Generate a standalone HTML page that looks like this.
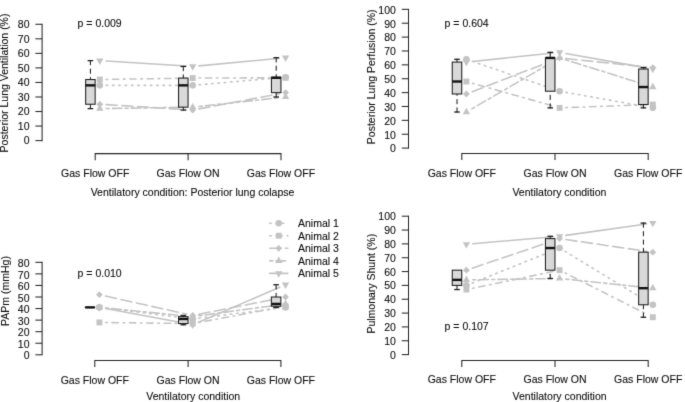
<!DOCTYPE html>
<html><head><meta charset="utf-8"><style>
html,body{margin:0;padding:0;background:#fff;}
svg{display:block;filter:grayscale(1);}
text{font-family:"Liberation Sans",sans-serif;font-size:10.5px;fill:#0d0d0d;stroke:#0d0d0d;stroke-width:0.1px;}
</style></head><body>
<svg width="685" height="402" viewBox="0 0 685 402">
<defs><filter id="bl" x="0" y="0" width="685" height="402" filterUnits="userSpaceOnUse" color-interpolation-filters="sRGB"><feConvolveMatrix order="3" kernelMatrix="0.01134 0.08382 0.01134 0.08382 0.61935 0.08382 0.01134 0.08382 0.01134" edgeMode="duplicate"/></filter></defs>
<g filter="url(#bl)">
<rect width="685" height="402" fill="#fff"/>
<line x1="42.10" y1="140.60" x2="42.10" y2="24.28" stroke="#262626" stroke-width="1.05" stroke-linecap="square"/>
<line x1="35.40" y1="140.60" x2="42.10" y2="140.60" stroke="#262626" stroke-width="1.05" stroke-linecap="butt"/>
<text x="29.50" y="144.45" text-anchor="end">0</text>
<line x1="35.40" y1="126.06" x2="42.10" y2="126.06" stroke="#262626" stroke-width="1.05" stroke-linecap="butt"/>
<text x="29.50" y="129.91" text-anchor="end">10</text>
<line x1="35.40" y1="111.52" x2="42.10" y2="111.52" stroke="#262626" stroke-width="1.05" stroke-linecap="butt"/>
<text x="29.50" y="115.37" text-anchor="end">20</text>
<line x1="35.40" y1="96.98" x2="42.10" y2="96.98" stroke="#262626" stroke-width="1.05" stroke-linecap="butt"/>
<text x="29.50" y="100.83" text-anchor="end">30</text>
<line x1="35.40" y1="82.44" x2="42.10" y2="82.44" stroke="#262626" stroke-width="1.05" stroke-linecap="butt"/>
<text x="29.50" y="86.29" text-anchor="end">40</text>
<line x1="35.40" y1="67.90" x2="42.10" y2="67.90" stroke="#262626" stroke-width="1.05" stroke-linecap="butt"/>
<text x="29.50" y="71.75" text-anchor="end">50</text>
<line x1="35.40" y1="53.36" x2="42.10" y2="53.36" stroke="#262626" stroke-width="1.05" stroke-linecap="butt"/>
<text x="29.50" y="57.21" text-anchor="end">60</text>
<line x1="35.40" y1="38.82" x2="42.10" y2="38.82" stroke="#262626" stroke-width="1.05" stroke-linecap="butt"/>
<text x="29.50" y="42.67" text-anchor="end">70</text>
<line x1="35.40" y1="24.28" x2="42.10" y2="24.28" stroke="#262626" stroke-width="1.05" stroke-linecap="butt"/>
<text x="29.50" y="28.13" text-anchor="end">80</text>
<path d="M95.20 160.20V153.60H281.00V160.20M188.10 153.60V160.20" fill="none" stroke="#262626" stroke-width="1.05"/>
<text x="95.20" y="177.10" text-anchor="middle">Gas Flow OFF</text>
<text x="188.10" y="177.10" text-anchor="middle">Gas Flow ON</text>
<text x="281.00" y="177.10" text-anchor="middle">Gas Flow OFF</text>
<text x="192.50" y="196.00" text-anchor="middle">Ventilatory condition: Posterior lung colapse</text>
<text x="0" y="0" transform="translate(8.40,83.00) rotate(-90)" text-anchor="middle">Posterior Lung Ventilation (%)</text>
<text x="77.60" y="26.80" text-anchor="start">p = 0.009</text>
<line x1="106.10" y1="85.35" x2="186.40" y2="85.35" stroke="#c3c3c3" stroke-width="1.58" stroke-dasharray="1.58 4.74" stroke-linecap="round"/>
<line x1="198.98" y1="84.80" x2="279.32" y2="77.76" stroke="#c3c3c3" stroke-width="1.58" stroke-dasharray="1.58 4.74" stroke-linecap="round"/>
<line x1="106.10" y1="79.43" x2="186.40" y2="78.18" stroke="#c3c3c3" stroke-width="1.58" stroke-dasharray="1.58 4.74 6.32 4.74" stroke-linecap="round"/>
<line x1="199.00" y1="78.06" x2="279.30" y2="77.81" stroke="#c3c3c3" stroke-width="1.58" stroke-dasharray="1.58 4.74 6.32 4.74" stroke-linecap="round"/>
<line x1="106.09" y1="104.64" x2="186.41" y2="109.67" stroke="#c3c3c3" stroke-width="1.58" stroke-dasharray="11.06 4.74" stroke-linecap="round"/>
<line x1="198.89" y1="108.90" x2="279.41" y2="93.78" stroke="#c3c3c3" stroke-width="1.58" stroke-dasharray="11.06 4.74" stroke-linecap="round"/>
<line x1="106.10" y1="108.51" x2="186.40" y2="107.26" stroke="#c3c3c3" stroke-width="1.58" stroke-dasharray="3.16 3.16 9.48 3.16" stroke-linecap="round"/>
<line x1="198.96" y1="106.47" x2="279.34" y2="97.67" stroke="#c3c3c3" stroke-width="1.58" stroke-dasharray="3.16 3.16 9.48 3.16" stroke-linecap="round"/>
<line x1="106.09" y1="61.02" x2="186.41" y2="66.05" stroke="#c3c3c3" stroke-width="1.58" stroke-linecap="round"/>
<line x1="198.97" y1="65.86" x2="279.33" y2="58.31" stroke="#c3c3c3" stroke-width="1.58" stroke-linecap="round"/>
<circle cx="99.80" cy="85.35" r="3.30" fill="#c3c3c3"/>
<circle cx="192.70" cy="85.35" r="3.30" fill="#c3c3c3"/>
<circle cx="285.60" cy="77.21" r="3.30" fill="#c3c3c3"/>
<rect x="96.85" y="76.58" width="5.90" height="5.90" fill="#c3c3c3"/>
<rect x="189.75" y="75.13" width="5.90" height="5.90" fill="#c3c3c3"/>
<rect x="282.65" y="74.84" width="5.90" height="5.90" fill="#c3c3c3"/>
<path d="M99.80 100.85L103.20 104.25L99.80 107.65L96.40 104.25Z" fill="#c3c3c3"/>
<path d="M192.70 106.67L196.10 110.07L192.70 113.47L189.30 110.07Z" fill="#c3c3c3"/>
<path d="M285.60 89.22L289.00 92.62L285.60 96.02L282.20 92.62Z" fill="#c3c3c3"/>
<path d="M99.80 104.36L103.48 110.74L96.12 110.74Z" fill="#c3c3c3"/>
<path d="M192.70 102.91L196.38 109.28L189.02 109.28Z" fill="#c3c3c3"/>
<path d="M285.60 92.73L289.28 99.10L281.92 99.10Z" fill="#c3c3c3"/>
<path d="M99.80 64.88L103.48 58.50L96.12 58.50Z" fill="#c3c3c3"/>
<path d="M192.70 70.70L196.38 64.32L189.02 64.32Z" fill="#c3c3c3"/>
<path d="M285.60 61.97L289.28 55.60L281.92 55.60Z" fill="#c3c3c3"/>
<line x1="90.40" y1="60.63" x2="90.40" y2="79.53" stroke="#1e1e1e" stroke-width="1.05" stroke-dasharray="4.2 4.2" stroke-linecap="round"/>
<line x1="87.60" y1="60.63" x2="93.20" y2="60.63" stroke="#1e1e1e" stroke-width="1.3" stroke-linecap="butt"/>
<line x1="90.40" y1="108.61" x2="90.40" y2="104.25" stroke="#1e1e1e" stroke-width="1.05" stroke-dasharray="4.2 4.2" stroke-linecap="round"/>
<line x1="87.60" y1="108.61" x2="93.20" y2="108.61" stroke="#1e1e1e" stroke-width="1.3" stroke-linecap="butt"/>
<rect x="85.65" y="79.53" width="9.50" height="24.72" fill="#d9d9d9" stroke="#1e1e1e" stroke-width="1.05"/>
<line x1="85.65" y1="85.35" x2="95.15" y2="85.35" stroke="#111" stroke-width="2.4" stroke-linecap="butt"/>
<line x1="183.30" y1="66.45" x2="183.30" y2="78.08" stroke="#1e1e1e" stroke-width="1.05" stroke-dasharray="4.2 4.2" stroke-linecap="round"/>
<line x1="180.50" y1="66.45" x2="186.10" y2="66.45" stroke="#1e1e1e" stroke-width="1.3" stroke-linecap="butt"/>
<line x1="183.30" y1="110.07" x2="183.30" y2="107.16" stroke="#1e1e1e" stroke-width="1.05" stroke-dasharray="4.2 4.2" stroke-linecap="round"/>
<line x1="180.50" y1="110.07" x2="186.10" y2="110.07" stroke="#1e1e1e" stroke-width="1.3" stroke-linecap="butt"/>
<rect x="178.55" y="78.08" width="9.50" height="29.08" fill="#d9d9d9" stroke="#1e1e1e" stroke-width="1.05"/>
<line x1="178.55" y1="85.35" x2="188.05" y2="85.35" stroke="#111" stroke-width="2.4" stroke-linecap="butt"/>
<line x1="276.20" y1="57.72" x2="276.20" y2="77.21" stroke="#1e1e1e" stroke-width="1.05" stroke-dasharray="4.2 4.2" stroke-linecap="round"/>
<line x1="273.40" y1="57.72" x2="279.00" y2="57.72" stroke="#1e1e1e" stroke-width="1.3" stroke-linecap="butt"/>
<line x1="276.20" y1="96.98" x2="276.20" y2="92.62" stroke="#1e1e1e" stroke-width="1.05" stroke-dasharray="4.2 4.2" stroke-linecap="round"/>
<line x1="273.40" y1="96.98" x2="279.00" y2="96.98" stroke="#1e1e1e" stroke-width="1.3" stroke-linecap="butt"/>
<rect x="271.45" y="77.21" width="9.50" height="15.41" fill="#d9d9d9" stroke="#1e1e1e" stroke-width="1.05"/>
<line x1="271.45" y1="77.79" x2="280.95" y2="77.79" stroke="#111" stroke-width="2.4" stroke-linecap="butt"/>
<line x1="408.50" y1="148.10" x2="408.50" y2="9.35" stroke="#262626" stroke-width="1.05" stroke-linecap="square"/>
<line x1="401.80" y1="148.10" x2="408.50" y2="148.10" stroke="#262626" stroke-width="1.05" stroke-linecap="butt"/>
<text x="395.90" y="152.45" text-anchor="end">0</text>
<line x1="401.80" y1="134.22" x2="408.50" y2="134.22" stroke="#262626" stroke-width="1.05" stroke-linecap="butt"/>
<text x="395.90" y="138.57" text-anchor="end">10</text>
<line x1="401.80" y1="120.35" x2="408.50" y2="120.35" stroke="#262626" stroke-width="1.05" stroke-linecap="butt"/>
<text x="395.90" y="124.70" text-anchor="end">20</text>
<line x1="401.80" y1="106.47" x2="408.50" y2="106.47" stroke="#262626" stroke-width="1.05" stroke-linecap="butt"/>
<text x="395.90" y="110.82" text-anchor="end">30</text>
<line x1="401.80" y1="92.60" x2="408.50" y2="92.60" stroke="#262626" stroke-width="1.05" stroke-linecap="butt"/>
<text x="395.90" y="96.95" text-anchor="end">40</text>
<line x1="401.80" y1="78.72" x2="408.50" y2="78.72" stroke="#262626" stroke-width="1.05" stroke-linecap="butt"/>
<text x="395.90" y="83.07" text-anchor="end">50</text>
<line x1="401.80" y1="64.85" x2="408.50" y2="64.85" stroke="#262626" stroke-width="1.05" stroke-linecap="butt"/>
<text x="395.90" y="69.20" text-anchor="end">60</text>
<line x1="401.80" y1="50.97" x2="408.50" y2="50.97" stroke="#262626" stroke-width="1.05" stroke-linecap="butt"/>
<text x="395.90" y="55.32" text-anchor="end">70</text>
<line x1="401.80" y1="37.10" x2="408.50" y2="37.10" stroke="#262626" stroke-width="1.05" stroke-linecap="butt"/>
<text x="395.90" y="41.45" text-anchor="end">80</text>
<line x1="401.80" y1="23.22" x2="408.50" y2="23.22" stroke="#262626" stroke-width="1.05" stroke-linecap="butt"/>
<text x="395.90" y="27.57" text-anchor="end">90</text>
<line x1="401.80" y1="9.35" x2="408.50" y2="9.35" stroke="#262626" stroke-width="1.05" stroke-linecap="butt"/>
<text x="395.90" y="13.70" text-anchor="end">100</text>
<path d="M461.80 160.10V153.50H648.20V160.10M555.00 153.50V160.10" fill="none" stroke="#262626" stroke-width="1.05"/>
<text x="461.80" y="177.00" text-anchor="middle">Gas Flow OFF</text>
<text x="555.00" y="177.00" text-anchor="middle">Gas Flow ON</text>
<text x="648.20" y="177.00" text-anchor="middle">Gas Flow OFF</text>
<text x="559.40" y="196.10" text-anchor="middle">Ventilatory condition</text>
<text x="0" y="0" transform="translate(374.70,76.80) rotate(-90)" text-anchor="middle">Posterior Lung Perfusion (%)</text>
<text x="444.60" y="26.50" text-anchor="start">p = 0.604</text>
<line x1="472.36" y1="61.34" x2="553.64" y2="89.17" stroke="#c3c3c3" stroke-width="1.58" stroke-dasharray="1.58 4.74" stroke-linecap="round"/>
<line x1="565.80" y1="92.32" x2="646.60" y2="106.75" stroke="#c3c3c3" stroke-width="1.58" stroke-dasharray="1.58 4.74" stroke-linecap="round"/>
<line x1="472.46" y1="83.21" x2="553.54" y2="106.15" stroke="#c3c3c3" stroke-width="1.58" stroke-dasharray="1.58 4.74 6.32 4.74" stroke-linecap="round"/>
<line x1="565.90" y1="107.64" x2="646.50" y2="104.76" stroke="#c3c3c3" stroke-width="1.58" stroke-dasharray="1.58 4.74 6.32 4.74" stroke-linecap="round"/>
<line x1="472.28" y1="91.71" x2="553.72" y2="60.19" stroke="#c3c3c3" stroke-width="1.58" stroke-dasharray="11.06 4.74" stroke-linecap="round"/>
<line x1="565.87" y1="58.57" x2="646.53" y2="66.97" stroke="#c3c3c3" stroke-width="1.58" stroke-dasharray="11.06 4.74" stroke-linecap="round"/>
<line x1="471.85" y1="108.86" x2="554.15" y2="61.08" stroke="#c3c3c3" stroke-width="1.58" stroke-dasharray="3.16 3.16 9.48 3.16" stroke-linecap="round"/>
<line x1="565.61" y1="59.79" x2="646.79" y2="85.17" stroke="#c3c3c3" stroke-width="1.58" stroke-dasharray="3.16 3.16 9.48 3.16" stroke-linecap="round"/>
<line x1="472.67" y1="61.42" x2="553.33" y2="53.02" stroke="#c3c3c3" stroke-width="1.58" stroke-linecap="round"/>
<line x1="565.80" y1="53.47" x2="646.60" y2="67.90" stroke="#c3c3c3" stroke-width="1.58" stroke-linecap="round"/>
<circle cx="466.40" cy="59.30" r="3.30" fill="#c3c3c3"/>
<circle cx="559.60" cy="91.21" r="3.30" fill="#c3c3c3"/>
<circle cx="652.80" cy="107.86" r="3.30" fill="#c3c3c3"/>
<rect x="463.45" y="78.55" width="5.90" height="5.90" fill="#c3c3c3"/>
<rect x="556.65" y="104.91" width="5.90" height="5.90" fill="#c3c3c3"/>
<rect x="649.85" y="101.58" width="5.90" height="5.90" fill="#c3c3c3"/>
<path d="M466.40 90.59L469.80 93.99L466.40 97.39L463.00 93.99Z" fill="#c3c3c3"/>
<path d="M559.60 54.51L563.00 57.91L559.60 61.31L556.20 57.91Z" fill="#c3c3c3"/>
<path d="M652.80 64.22L656.20 67.62L652.80 71.03L649.40 67.62Z" fill="#c3c3c3"/>
<path d="M466.40 107.78L470.08 114.15L462.72 114.15Z" fill="#c3c3c3"/>
<path d="M559.60 53.66L563.28 60.04L555.92 60.04Z" fill="#c3c3c3"/>
<path d="M652.80 82.80L656.48 89.17L649.12 89.17Z" fill="#c3c3c3"/>
<path d="M466.40 66.33L470.08 59.95L462.72 59.95Z" fill="#c3c3c3"/>
<path d="M559.60 56.61L563.28 50.24L555.92 50.24Z" fill="#c3c3c3"/>
<path d="M652.80 73.26L656.48 66.89L649.12 66.89Z" fill="#c3c3c3"/>
<line x1="457.00" y1="59.30" x2="457.00" y2="62.08" stroke="#1e1e1e" stroke-width="1.05" stroke-dasharray="4.2 4.2" stroke-linecap="round"/>
<line x1="454.20" y1="59.30" x2="459.80" y2="59.30" stroke="#1e1e1e" stroke-width="1.3" stroke-linecap="butt"/>
<line x1="457.00" y1="112.03" x2="457.00" y2="93.99" stroke="#1e1e1e" stroke-width="1.05" stroke-dasharray="4.2 4.2" stroke-linecap="round"/>
<line x1="454.20" y1="112.03" x2="459.80" y2="112.03" stroke="#1e1e1e" stroke-width="1.3" stroke-linecap="butt"/>
<rect x="452.25" y="62.08" width="9.50" height="31.91" fill="#d9d9d9" stroke="#1e1e1e" stroke-width="1.05"/>
<line x1="452.25" y1="81.50" x2="461.75" y2="81.50" stroke="#111" stroke-width="2.4" stroke-linecap="butt"/>
<line x1="550.20" y1="52.36" x2="550.20" y2="57.91" stroke="#1e1e1e" stroke-width="1.05" stroke-dasharray="4.2 4.2" stroke-linecap="round"/>
<line x1="547.40" y1="52.36" x2="553.00" y2="52.36" stroke="#1e1e1e" stroke-width="1.3" stroke-linecap="butt"/>
<line x1="550.20" y1="107.86" x2="550.20" y2="91.21" stroke="#1e1e1e" stroke-width="1.05" stroke-dasharray="4.2 4.2" stroke-linecap="round"/>
<line x1="547.40" y1="107.86" x2="553.00" y2="107.86" stroke="#1e1e1e" stroke-width="1.3" stroke-linecap="butt"/>
<rect x="545.45" y="57.91" width="9.50" height="33.30" fill="#d9d9d9" stroke="#1e1e1e" stroke-width="1.05"/>
<line x1="545.45" y1="57.91" x2="554.95" y2="57.91" stroke="#111" stroke-width="2.4" stroke-linecap="butt"/>
<line x1="643.40" y1="67.62" x2="643.40" y2="69.01" stroke="#1e1e1e" stroke-width="1.05" stroke-dasharray="4.2 4.2" stroke-linecap="round"/>
<line x1="640.60" y1="67.62" x2="646.20" y2="67.62" stroke="#1e1e1e" stroke-width="1.3" stroke-linecap="butt"/>
<line x1="643.40" y1="107.86" x2="643.40" y2="104.53" stroke="#1e1e1e" stroke-width="1.05" stroke-dasharray="4.2 4.2" stroke-linecap="round"/>
<line x1="640.60" y1="107.86" x2="646.20" y2="107.86" stroke="#1e1e1e" stroke-width="1.3" stroke-linecap="butt"/>
<rect x="638.65" y="69.01" width="9.50" height="35.52" fill="#d9d9d9" stroke="#1e1e1e" stroke-width="1.05"/>
<line x1="638.65" y1="87.05" x2="648.15" y2="87.05" stroke="#111" stroke-width="2.4" stroke-linecap="butt"/>
<line x1="42.10" y1="354.80" x2="42.10" y2="262.32" stroke="#262626" stroke-width="1.05" stroke-linecap="square"/>
<line x1="35.40" y1="354.80" x2="42.10" y2="354.80" stroke="#262626" stroke-width="1.05" stroke-linecap="butt"/>
<text x="29.50" y="359.45" text-anchor="end">0</text>
<line x1="35.40" y1="343.24" x2="42.10" y2="343.24" stroke="#262626" stroke-width="1.05" stroke-linecap="butt"/>
<text x="29.50" y="347.89" text-anchor="end">10</text>
<line x1="35.40" y1="331.68" x2="42.10" y2="331.68" stroke="#262626" stroke-width="1.05" stroke-linecap="butt"/>
<text x="29.50" y="336.33" text-anchor="end">20</text>
<line x1="35.40" y1="320.12" x2="42.10" y2="320.12" stroke="#262626" stroke-width="1.05" stroke-linecap="butt"/>
<text x="29.50" y="324.77" text-anchor="end">30</text>
<line x1="35.40" y1="308.56" x2="42.10" y2="308.56" stroke="#262626" stroke-width="1.05" stroke-linecap="butt"/>
<text x="29.50" y="313.21" text-anchor="end">40</text>
<line x1="35.40" y1="297.00" x2="42.10" y2="297.00" stroke="#262626" stroke-width="1.05" stroke-linecap="butt"/>
<text x="29.50" y="301.65" text-anchor="end">50</text>
<line x1="35.40" y1="285.44" x2="42.10" y2="285.44" stroke="#262626" stroke-width="1.05" stroke-linecap="butt"/>
<text x="29.50" y="290.09" text-anchor="end">60</text>
<line x1="35.40" y1="273.88" x2="42.10" y2="273.88" stroke="#262626" stroke-width="1.05" stroke-linecap="butt"/>
<text x="29.50" y="278.53" text-anchor="end">70</text>
<line x1="35.40" y1="262.32" x2="42.10" y2="262.32" stroke="#262626" stroke-width="1.05" stroke-linecap="butt"/>
<text x="29.50" y="266.97" text-anchor="end">80</text>
<path d="M94.80 367.00V360.40H280.90V367.00M188.10 360.40V367.00" fill="none" stroke="#262626" stroke-width="1.05"/>
<text x="94.80" y="383.50" text-anchor="middle">Gas Flow OFF</text>
<text x="188.10" y="383.50" text-anchor="middle">Gas Flow ON</text>
<text x="280.90" y="383.50" text-anchor="middle">Gas Flow OFF</text>
<text x="193.20" y="400.30" text-anchor="middle">Ventilatory condition</text>
<text x="0" y="0" transform="translate(8.60,291.00) rotate(-90)" text-anchor="middle">PAPm (mmHg)</text>
<text x="77.60" y="276.80" text-anchor="start">p = 0.010</text>
<line x1="105.65" y1="308.18" x2="186.45" y2="318.19" stroke="#c3c3c3" stroke-width="1.58" stroke-dasharray="1.58 4.74" stroke-linecap="round"/>
<line x1="198.95" y1="318.19" x2="279.25" y2="308.18" stroke="#c3c3c3" stroke-width="1.58" stroke-dasharray="1.58 4.74" stroke-linecap="round"/>
<line x1="105.70" y1="322.51" x2="186.40" y2="323.51" stroke="#c3c3c3" stroke-width="1.58" stroke-dasharray="1.58 4.74 6.32 4.74" stroke-linecap="round"/>
<line x1="198.89" y1="322.43" x2="279.31" y2="307.41" stroke="#c3c3c3" stroke-width="1.58" stroke-dasharray="1.58 4.74 6.32 4.74" stroke-linecap="round"/>
<line x1="105.55" y1="296.06" x2="186.55" y2="314.12" stroke="#c3c3c3" stroke-width="1.58" stroke-dasharray="11.06 4.74" stroke-linecap="round"/>
<line x1="198.88" y1="314.26" x2="279.32" y2="298.23" stroke="#c3c3c3" stroke-width="1.58" stroke-dasharray="11.06 4.74" stroke-linecap="round"/>
<line x1="105.67" y1="308.03" x2="186.43" y2="316.03" stroke="#c3c3c3" stroke-width="1.58" stroke-dasharray="3.16 3.16 9.48 3.16" stroke-linecap="round"/>
<line x1="198.94" y1="315.80" x2="279.26" y2="304.79" stroke="#c3c3c3" stroke-width="1.58" stroke-dasharray="3.16 3.16 9.48 3.16" stroke-linecap="round"/>
<line x1="105.59" y1="308.56" x2="186.51" y2="323.59" stroke="#c3c3c3" stroke-width="1.58" stroke-linecap="round"/>
<line x1="198.49" y1="322.25" x2="279.71" y2="287.24" stroke="#c3c3c3" stroke-width="1.58" stroke-linecap="round"/>
<circle cx="99.40" cy="307.40" r="3.30" fill="#c3c3c3"/>
<circle cx="192.70" cy="318.96" r="3.30" fill="#c3c3c3"/>
<circle cx="285.50" cy="307.40" r="3.30" fill="#c3c3c3"/>
<rect x="96.45" y="319.48" width="5.90" height="5.90" fill="#c3c3c3"/>
<rect x="189.75" y="320.64" width="5.90" height="5.90" fill="#c3c3c3"/>
<rect x="282.55" y="303.30" width="5.90" height="5.90" fill="#c3c3c3"/>
<path d="M99.40 291.29L102.80 294.69L99.40 298.09L96.00 294.69Z" fill="#c3c3c3"/>
<path d="M192.70 312.10L196.10 315.50L192.70 318.90L189.30 315.50Z" fill="#c3c3c3"/>
<path d="M285.50 293.60L288.90 297.00L285.50 300.40L282.10 297.00Z" fill="#c3c3c3"/>
<path d="M99.40 303.15L103.08 309.53L95.72 309.53Z" fill="#c3c3c3"/>
<path d="M192.70 312.40L196.38 318.78L189.02 318.78Z" fill="#c3c3c3"/>
<path d="M285.50 299.69L289.18 306.06L281.82 306.06Z" fill="#c3c3c3"/>
<path d="M99.40 311.65L103.08 305.28L95.72 305.28Z" fill="#c3c3c3"/>
<path d="M192.70 328.99L196.38 322.62L189.02 322.62Z" fill="#c3c3c3"/>
<path d="M285.50 289.00L289.18 282.62L281.82 282.62Z" fill="#c3c3c3"/>
<rect x="85.25" y="307.40" width="9.50" height="0.01" fill="#d9d9d9" stroke="#1e1e1e" stroke-width="1.05"/>
<line x1="85.25" y1="307.40" x2="94.75" y2="307.40" stroke="#111" stroke-width="2.4" stroke-linecap="butt"/>
<line x1="183.30" y1="315.50" x2="183.30" y2="316.65" stroke="#1e1e1e" stroke-width="1.05" stroke-dasharray="4.2 4.2" stroke-linecap="round"/>
<line x1="180.50" y1="315.50" x2="186.10" y2="315.50" stroke="#1e1e1e" stroke-width="1.3" stroke-linecap="butt"/>
<line x1="183.30" y1="324.74" x2="183.30" y2="323.59" stroke="#1e1e1e" stroke-width="1.05" stroke-dasharray="4.2 4.2" stroke-linecap="round"/>
<line x1="180.50" y1="324.74" x2="186.10" y2="324.74" stroke="#1e1e1e" stroke-width="1.3" stroke-linecap="butt"/>
<rect x="178.55" y="316.65" width="9.50" height="6.94" fill="#d9d9d9" stroke="#1e1e1e" stroke-width="1.05"/>
<line x1="178.55" y1="318.96" x2="188.05" y2="318.96" stroke="#111" stroke-width="2.4" stroke-linecap="butt"/>
<line x1="276.10" y1="284.75" x2="276.10" y2="297.00" stroke="#1e1e1e" stroke-width="1.05" stroke-dasharray="4.2 4.2" stroke-linecap="round"/>
<line x1="273.30" y1="284.75" x2="278.90" y2="284.75" stroke="#1e1e1e" stroke-width="1.3" stroke-linecap="butt"/>
<line x1="276.10" y1="307.40" x2="276.10" y2="306.25" stroke="#1e1e1e" stroke-width="1.05" stroke-dasharray="4.2 4.2" stroke-linecap="round"/>
<line x1="273.30" y1="307.40" x2="278.90" y2="307.40" stroke="#1e1e1e" stroke-width="1.3" stroke-linecap="butt"/>
<rect x="271.35" y="297.00" width="9.50" height="9.25" fill="#d9d9d9" stroke="#1e1e1e" stroke-width="1.05"/>
<line x1="271.35" y1="303.94" x2="280.85" y2="303.94" stroke="#111" stroke-width="2.4" stroke-linecap="butt"/>
<line x1="408.50" y1="354.60" x2="408.50" y2="216.20" stroke="#262626" stroke-width="1.05" stroke-linecap="square"/>
<line x1="401.80" y1="354.60" x2="408.50" y2="354.60" stroke="#262626" stroke-width="1.05" stroke-linecap="butt"/>
<text x="395.90" y="358.65" text-anchor="end">0</text>
<line x1="401.80" y1="340.76" x2="408.50" y2="340.76" stroke="#262626" stroke-width="1.05" stroke-linecap="butt"/>
<text x="395.90" y="344.81" text-anchor="end">10</text>
<line x1="401.80" y1="326.92" x2="408.50" y2="326.92" stroke="#262626" stroke-width="1.05" stroke-linecap="butt"/>
<text x="395.90" y="330.97" text-anchor="end">20</text>
<line x1="401.80" y1="313.08" x2="408.50" y2="313.08" stroke="#262626" stroke-width="1.05" stroke-linecap="butt"/>
<text x="395.90" y="317.13" text-anchor="end">30</text>
<line x1="401.80" y1="299.24" x2="408.50" y2="299.24" stroke="#262626" stroke-width="1.05" stroke-linecap="butt"/>
<text x="395.90" y="303.29" text-anchor="end">40</text>
<line x1="401.80" y1="285.40" x2="408.50" y2="285.40" stroke="#262626" stroke-width="1.05" stroke-linecap="butt"/>
<text x="395.90" y="289.45" text-anchor="end">50</text>
<line x1="401.80" y1="271.56" x2="408.50" y2="271.56" stroke="#262626" stroke-width="1.05" stroke-linecap="butt"/>
<text x="395.90" y="275.61" text-anchor="end">60</text>
<line x1="401.80" y1="257.72" x2="408.50" y2="257.72" stroke="#262626" stroke-width="1.05" stroke-linecap="butt"/>
<text x="395.90" y="261.77" text-anchor="end">70</text>
<line x1="401.80" y1="243.88" x2="408.50" y2="243.88" stroke="#262626" stroke-width="1.05" stroke-linecap="butt"/>
<text x="395.90" y="247.93" text-anchor="end">80</text>
<line x1="401.80" y1="230.04" x2="408.50" y2="230.04" stroke="#262626" stroke-width="1.05" stroke-linecap="butt"/>
<text x="395.90" y="234.09" text-anchor="end">90</text>
<line x1="401.80" y1="216.20" x2="408.50" y2="216.20" stroke="#262626" stroke-width="1.05" stroke-linecap="butt"/>
<text x="395.90" y="220.25" text-anchor="end">100</text>
<path d="M461.80 367.00V360.40H648.20V367.00M555.00 360.40V367.00" fill="none" stroke="#262626" stroke-width="1.05"/>
<text x="461.80" y="383.30" text-anchor="middle">Gas Flow OFF</text>
<text x="555.00" y="383.30" text-anchor="middle">Gas Flow ON</text>
<text x="648.20" y="383.30" text-anchor="middle">Gas Flow OFF</text>
<text x="559.60" y="399.80" text-anchor="middle">Ventilatory condition</text>
<text x="0" y="0" transform="translate(374.70,283.70) rotate(-90)" text-anchor="middle">Pulmonary Shunt (%)</text>
<text x="444.60" y="330.00" text-anchor="start">p = 0.107</text>
<line x1="472.25" y1="283.06" x2="553.75" y2="250.38" stroke="#c3c3c3" stroke-width="1.58" stroke-dasharray="1.58 4.74" stroke-linecap="round"/>
<line x1="564.98" y1="251.31" x2="647.42" y2="301.50" stroke="#c3c3c3" stroke-width="1.58" stroke-dasharray="1.58 4.74" stroke-linecap="round"/>
<line x1="472.57" y1="288.27" x2="553.43" y2="271.46" stroke="#c3c3c3" stroke-width="1.58" stroke-dasharray="1.58 4.74 6.32 4.74" stroke-linecap="round"/>
<line x1="565.22" y1="273.02" x2="647.18" y2="314.39" stroke="#c3c3c3" stroke-width="1.58" stroke-dasharray="1.58 4.74 6.32 4.74" stroke-linecap="round"/>
<line x1="472.37" y1="268.16" x2="553.63" y2="240.64" stroke="#c3c3c3" stroke-width="1.58" stroke-dasharray="11.06 4.74" stroke-linecap="round"/>
<line x1="565.83" y1="239.53" x2="646.57" y2="251.28" stroke="#c3c3c3" stroke-width="1.58" stroke-dasharray="11.06 4.74" stroke-linecap="round"/>
<line x1="472.70" y1="279.77" x2="553.30" y2="278.57" stroke="#c3c3c3" stroke-width="1.58" stroke-dasharray="3.16 3.16 9.48 3.16" stroke-linecap="round"/>
<line x1="565.87" y1="279.13" x2="646.53" y2="287.52" stroke="#c3c3c3" stroke-width="1.58" stroke-dasharray="3.16 3.16 9.48 3.16" stroke-linecap="round"/>
<line x1="472.68" y1="243.75" x2="553.32" y2="236.81" stroke="#c3c3c3" stroke-width="1.58" stroke-linecap="round"/>
<line x1="565.84" y1="235.39" x2="646.56" y2="224.00" stroke="#c3c3c3" stroke-width="1.58" stroke-linecap="round"/>
<circle cx="466.40" cy="285.40" r="3.30" fill="#c3c3c3"/>
<circle cx="559.60" cy="248.03" r="3.30" fill="#c3c3c3"/>
<circle cx="652.80" cy="304.78" r="3.30" fill="#c3c3c3"/>
<rect x="463.45" y="286.60" width="5.90" height="5.90" fill="#c3c3c3"/>
<rect x="556.65" y="267.23" width="5.90" height="5.90" fill="#c3c3c3"/>
<rect x="649.85" y="314.28" width="5.90" height="5.90" fill="#c3c3c3"/>
<path d="M466.40 266.78L469.80 270.18L466.40 273.58L463.00 270.18Z" fill="#c3c3c3"/>
<path d="M559.60 235.22L563.00 238.62L559.60 242.02L556.20 238.62Z" fill="#c3c3c3"/>
<path d="M652.80 248.78L656.20 252.18L652.80 255.58L649.40 252.18Z" fill="#c3c3c3"/>
<path d="M466.40 275.61L470.08 281.99L462.72 281.99Z" fill="#c3c3c3"/>
<path d="M559.60 274.23L563.28 280.61L555.92 280.61Z" fill="#c3c3c3"/>
<path d="M652.80 283.92L656.48 290.29L649.12 290.29Z" fill="#c3c3c3"/>
<path d="M466.40 248.55L470.08 242.17L462.72 242.17Z" fill="#c3c3c3"/>
<path d="M559.60 240.52L563.28 234.14L555.92 234.14Z" fill="#c3c3c3"/>
<path d="M652.80 227.37L656.48 221.00L649.12 221.00Z" fill="#c3c3c3"/>
<line x1="457.00" y1="289.55" x2="457.00" y2="285.40" stroke="#1e1e1e" stroke-width="1.05" stroke-dasharray="4.2 4.2" stroke-linecap="round"/>
<line x1="454.20" y1="289.55" x2="459.80" y2="289.55" stroke="#1e1e1e" stroke-width="1.3" stroke-linecap="butt"/>
<rect x="452.25" y="270.18" width="9.50" height="15.22" fill="#d9d9d9" stroke="#1e1e1e" stroke-width="1.05"/>
<line x1="452.25" y1="279.86" x2="461.75" y2="279.86" stroke="#111" stroke-width="2.4" stroke-linecap="butt"/>
<line x1="550.20" y1="236.27" x2="550.20" y2="238.62" stroke="#1e1e1e" stroke-width="1.05" stroke-dasharray="4.2 4.2" stroke-linecap="round"/>
<line x1="547.40" y1="236.27" x2="553.00" y2="236.27" stroke="#1e1e1e" stroke-width="1.3" stroke-linecap="butt"/>
<line x1="550.20" y1="278.48" x2="550.20" y2="270.18" stroke="#1e1e1e" stroke-width="1.05" stroke-dasharray="4.2 4.2" stroke-linecap="round"/>
<line x1="547.40" y1="278.48" x2="553.00" y2="278.48" stroke="#1e1e1e" stroke-width="1.3" stroke-linecap="butt"/>
<rect x="545.45" y="238.62" width="9.50" height="31.56" fill="#d9d9d9" stroke="#1e1e1e" stroke-width="1.05"/>
<line x1="545.45" y1="248.03" x2="554.95" y2="248.03" stroke="#111" stroke-width="2.4" stroke-linecap="butt"/>
<line x1="643.40" y1="223.12" x2="643.40" y2="252.18" stroke="#1e1e1e" stroke-width="1.05" stroke-dasharray="4.2 4.2" stroke-linecap="round"/>
<line x1="640.60" y1="223.12" x2="646.20" y2="223.12" stroke="#1e1e1e" stroke-width="1.3" stroke-linecap="butt"/>
<line x1="643.40" y1="317.23" x2="643.40" y2="304.78" stroke="#1e1e1e" stroke-width="1.05" stroke-dasharray="4.2 4.2" stroke-linecap="round"/>
<line x1="640.60" y1="317.23" x2="646.20" y2="317.23" stroke="#1e1e1e" stroke-width="1.3" stroke-linecap="butt"/>
<rect x="638.65" y="252.18" width="9.50" height="52.59" fill="#d9d9d9" stroke="#1e1e1e" stroke-width="1.05"/>
<line x1="638.65" y1="288.17" x2="648.15" y2="288.17" stroke="#111" stroke-width="2.4" stroke-linecap="butt"/>
<line x1="269.70" y1="223.20" x2="287.80" y2="223.20" stroke="#c3c3c3" stroke-width="1.58" stroke-dasharray="1.58 4.74" stroke-linecap="round"/>
<circle cx="278.75" cy="223.20" r="3.30" fill="#c3c3c3"/>
<text x="298.00" y="227.00" text-anchor="start">Animal 1</text>
<line x1="269.70" y1="235.75" x2="287.80" y2="235.75" stroke="#c3c3c3" stroke-width="1.58" stroke-dasharray="1.58 4.74 6.32 4.74" stroke-linecap="round"/>
<rect x="275.80" y="232.80" width="5.90" height="5.90" fill="#c3c3c3"/>
<text x="298.00" y="239.55" text-anchor="start">Animal 2</text>
<line x1="269.70" y1="248.30" x2="287.80" y2="248.30" stroke="#c3c3c3" stroke-width="1.58" stroke-dasharray="11.06 4.74" stroke-linecap="round"/>
<path d="M278.75 244.90L282.15 248.30L278.75 251.70L275.35 248.30Z" fill="#c3c3c3"/>
<text x="298.00" y="252.10" text-anchor="start">Animal 3</text>
<line x1="269.70" y1="260.85" x2="287.80" y2="260.85" stroke="#c3c3c3" stroke-width="1.58" stroke-dasharray="3.16 3.16 9.48 3.16" stroke-linecap="round"/>
<path d="M278.75 256.60L282.43 262.97L275.07 262.97Z" fill="#c3c3c3"/>
<text x="298.00" y="264.65" text-anchor="start">Animal 4</text>
<line x1="269.70" y1="273.40" x2="287.80" y2="273.40" stroke="#c3c3c3" stroke-width="1.58" stroke-linecap="round"/>
<path d="M278.75 277.65L282.43 271.27L275.07 271.27Z" fill="#c3c3c3"/>
<text x="298.00" y="277.20" text-anchor="start">Animal 5</text>
</g>
</svg>
</body></html>
